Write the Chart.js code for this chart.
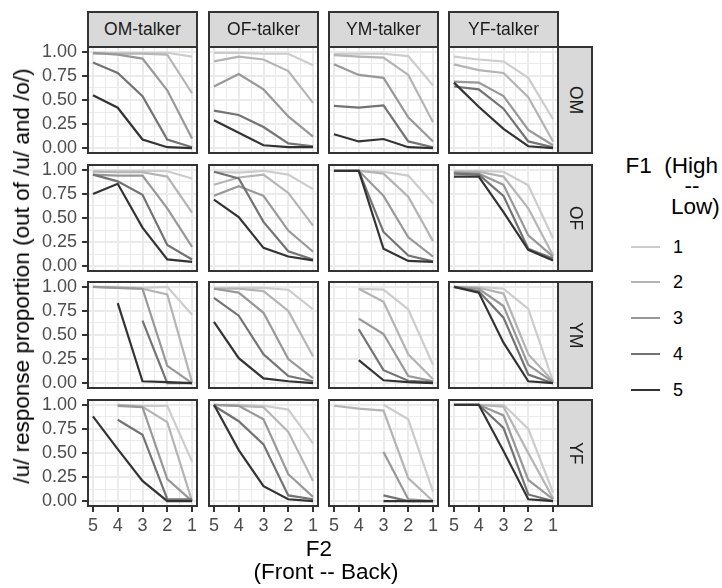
<!DOCTYPE html>
<html>
<head>
<meta charset="utf-8">
<title>/u/ response proportion by F1 and F2</title>
<script src="https://cdn.jsdelivr.net/npm/chart.js"></script>
<style>
    body { margin: 0; background: #fff; font-family: 'Liberation Sans', Arial, Helvetica, sans-serif; }
    #plot { position: relative; width: 722px; height: 588px; overflow: hidden; }
    #plot canvas { position: absolute; }
    .strip { position: absolute; box-sizing: border-box; background: #d9d9d9; border: 2px solid #333;
             color: #1a1a1a; font-size: 17.5px; display: flex; align-items: center; justify-content: center; }
    .strip.right { writing-mode: vertical-rl; }
    .txt { position: absolute; white-space: pre; line-height: 22px; }
</style>
</head>
<body>
<div id="plot"></div>
<script>
// facets: columns = talker, rows = stimulus
const talkers = ['OM-talker', 'OF-talker', 'YM-talker', 'YF-talker'];
const stimuli = ['OM', 'OF', 'YM', 'YF'];
const f2Levels = [5, 4, 3, 2, 1];
const f1Levels = ['1', '2', '3', '4', '5'];
const yTickValues = [0, 0.25, 0.5, 0.75, 1];
const yTickLabels = ['0.00', '0.25', '0.50', '0.75', '1.00'];

// each array: one row per F1 level (1..5), values at F2 = 5,4,3,2,1
const OM_OMtalker = [
    [0.99, 0.99, 0.99, 0.99, 0.95],
    [0.98, 0.98, 0.98, 0.97, 0.57],
    [0.99, 0.97, 0.93, 0.60, 0.10],
    [0.89, 0.78, 0.54, 0.09, 0.01],
    [0.55, 0.42, 0.09, 0.01, 0.00]
];
const OM_OFtalker = [
    [0.99, 0.99, 0.98, 0.98, 0.86],
    [0.90, 0.95, 0.92, 0.80, 0.47],
    [0.64, 0.77, 0.61, 0.33, 0.12],
    [0.39, 0.345, 0.22, 0.05, 0.02],
    [0.29, 0.16, 0.03, 0.01, 0.01]
];
const OM_YMtalker = [
    [0.98, 0.98, 0.98, 0.955, 0.65],
    [0.965, 0.95, 0.94, 0.76, 0.27],
    [0.87, 0.76, 0.73, 0.32, 0.07],
    [0.44, 0.42, 0.445, 0.07, 0.01],
    [0.145, 0.07, 0.095, 0.01, 0.00]
];
const OM_YFtalker = [
    [0.95, 0.92, 0.90, 0.73, 0.30],
    [0.87, 0.81, 0.78, 0.53, 0.07],
    [0.69, 0.68, 0.54, 0.19, 0.03],
    [0.64, 0.61, 0.41, 0.07, 0.01],
    [0.68, 0.43, 0.20, 0.02, 0.00]
];
const OF_OMtalker = [
    [0.99, 0.99, 0.99, 0.985, 0.91],
    [0.98, 0.975, 0.975, 0.93, 0.555],
    [0.95, 0.94, 0.94, 0.60, 0.20],
    [0.95, 0.88, 0.74, 0.22, 0.07],
    [0.75, 0.855, 0.40, 0.07, 0.045]
];
const OF_OFtalker = [
    [0.98, 0.97, 0.99, 0.95, 0.80],
    [0.845, 0.92, 0.95, 0.76, 0.42],
    [0.73, 0.83, 0.73, 0.37, 0.15],
    [0.98, 0.91, 0.46, 0.155, 0.07],
    [0.69, 0.51, 0.19, 0.10, 0.06]
];
const OF_YMtalker = [
    [0.99, 0.99, 0.98, 0.94, 0.65],
    [0.99, 0.99, 0.96, 0.72, 0.26],
    [0.99, 0.99, 0.73, 0.30, 0.10],
    [0.99, 0.99, 0.355, 0.11, 0.05],
    [0.99, 0.99, 0.18, 0.055, 0.045]
];
const OF_YFtalker = [
    [0.99, 0.99, 0.98, 0.84, 0.29],
    [0.98, 0.98, 0.93, 0.60, 0.11],
    [0.97, 0.96, 0.845, 0.32, 0.10],
    [0.96, 0.95, 0.73, 0.18, 0.08],
    [0.93, 0.93, 0.56, 0.17, 0.06]
];
const YM_OMtalker = [
    [1.00, 1.00, 0.99, 1.00, 0.71],
    [1.00, 0.99, 0.98, 0.92, 0.01],
    [1.00, 0.99, 0.98, 0.18, 0.00],
    [null, null, 0.65, 0.00, 0.00],
    [null, 0.83, 0.02, 0.01, 0.00]
];
const YM_OFtalker = [
    [0.99, 0.99, 0.99, 0.97, 0.765],
    [0.98, 0.98, 0.955, 0.75, 0.28],
    [0.98, 0.94, 0.73, 0.25, 0.05],
    [0.885, 0.70, 0.30, 0.075, 0.02],
    [0.635, 0.26, 0.05, 0.02, 0.00]
];
const YM_YMtalker = [
    [null, 0.98, 0.97, 0.765, 0.19],
    [null, 0.98, 0.845, 0.30, 0.04],
    [null, 0.67, 0.51, 0.075, 0.02],
    [null, 0.56, 0.135, 0.025, 0.01],
    [null, 0.24, 0.03, 0.01, 0.00]
];
const YM_YFtalker = [
    [1.00, 1.00, 0.98, 0.77, 0.02],
    [1.00, 0.99, 0.93, 0.30, 0.02],
    [1.00, 0.98, 0.80, 0.19, 0.01],
    [1.00, 0.955, 0.68, 0.09, 0.00],
    [1.00, 0.94, 0.42, 0.02, 0.00]
];
const YF_OMtalker = [
    [null, 1.00, 0.99, 0.99, 0.41],
    [null, 1.00, 0.98, 0.82, 0.00],
    [null, 0.99, 0.975, 0.23, 0.00],
    [null, 0.845, 0.69, 0.02, 0.02],
    [0.88, 0.54, 0.21, 0.00, 0.00]
];
const YF_OFtalker = [
    [1.00, 1.00, 0.99, 0.95, 0.60],
    [1.00, 0.99, 0.975, 0.72, 0.21],
    [1.00, 0.99, 0.85, 0.28, 0.045],
    [0.99, 0.83, 0.59, 0.06, 0.02],
    [1.00, 0.53, 0.155, 0.02, 0.00]
];
const YF_YMtalker = [
    [null, null, 1.00, 0.85, 0.10],
    [0.99, 0.96, 0.94, 0.24, 0.00],
    [null, null, 0.51, 0.02, 0.00],
    [null, null, 0.06, 0.00, 0.00],
    [null, null, 0.00, 0.00, 0.00]
];
const YF_YFtalker = [
    [1.00, 1.00, 1.00, 0.75, 0.09],
    [1.00, 1.00, 0.98, 0.50, 0.03],
    [1.00, 1.00, 0.89, 0.22, 0.02],
    [1.00, 1.00, 0.76, 0.07, 0.00],
    [1.00, 1.00, 0.52, 0.02, 0.00]
];

const panels = [
    [OM_OMtalker, OM_OFtalker, OM_YMtalker, OM_YFtalker],
    [OF_OMtalker, OF_OFtalker, OF_YMtalker, OF_YFtalker],
    [YM_OMtalker, YM_OFtalker, YM_YMtalker, YM_YFtalker],
    [YF_OMtalker, YF_OFtalker, YF_YMtalker, YF_YFtalker]
];

// grey scale, light (F1=1) to dark (F1=5)
const f1Colors = ['#cccccc', '#b4b4b4', '#989898', '#737373', '#333333'];

const FONT = "'Liberation Sans', Arial, Helvetica, sans-serif";
const TICK_SIZE = 18;
const TITLE_SIZE = 22.5;
const colLeft = [88, 209, 329, 449];
const rowTop = [47, 165, 282, 400];
const PW = 109, PH = 106, M = 4, AXH = 32;

// major grid at the ticks, minor grid halfway between
const xGrid = [];
for (let v = 1; v <= 5; v += 0.5) xGrid.push(v);
const yGrid = [];
for (let i = 0; i < yTickValues.length; i++) {
    yGrid.push(yTickValues[i]);
    if (i < yTickValues.length - 1) yGrid.push((yTickValues[i] + yTickValues[i + 1]) / 2);
}
const isMajorX = v => f2Levels.includes(v);
const isMajorY = v => yTickValues.some(t => Math.abs(t - v) < 1e-9);

const panelBorder = {
    id: 'panelBorder',
    afterDraw(chart) {
        const { ctx, chartArea: a } = chart;
        ctx.save();
        ctx.strokeStyle = '#333';
        ctx.lineWidth = 2;
        ctx.strokeRect(a.left, a.top, a.right - a.left, a.bottom - a.top);
        ctx.restore();
    }
};

const plot = document.getElementById('plot');

function makePanel(r, c) {
    const left = c === 0;
    const bottom = r === panels.length - 1;
    const x0 = left ? 0 : colLeft[c] - M;
    const w = colLeft[c] + PW + M - x0;
    const y0 = rowTop[r] - M;
    const h = M + PH + (bottom ? AXH : M);

    const cv = document.createElement('canvas');
    cv.width = w;
    cv.height = h;
    cv.style.left = x0 + 'px';
    cv.style.top = y0 + 'px';
    plot.appendChild(cv);

    const datasets = panels[r][c].map((vals, i) => ({
        label: f1Levels[i],
        data: f2Levels.map((x, j) => ({ x: x, y: vals[j] })),
        borderColor: f1Colors[i],
        borderWidth: 2.2,
        pointRadius: 0,
        spanGaps: false,
        order: f1Levels.length - i
    }));

    new Chart(cv, {
        type: 'line',
        data: { datasets: datasets },
        plugins: [panelBorder],
        options: {
            responsive: false,
            animation: false,
            events: [],
            layout: { padding: { left: left ? 0 : M, right: M, top: M, bottom: bottom ? 0 : M } },
            plugins: { legend: { display: false }, tooltip: { enabled: false } },
            scales: {
                x: {
                    type: 'linear', reverse: true, min: 0.8, max: 5.2,
                    afterBuildTicks: s => { s.ticks = xGrid.map(v => ({ value: v })); },
                    afterFit: s => { s.height = bottom ? AXH : 0; s.paddingLeft = 0; s.paddingRight = 0; },
                    ticks: {
                        display: bottom, autoSkip: false, maxRotation: 0, padding: 3,
                        color: '#4d4d4d', font: { family: FONT, size: TICK_SIZE },
                        callback: v => isMajorX(v) ? String(v) : ''
                    },
                    grid: {
                        color: '#ebebeb',
                        lineWidth: ctx => (ctx.tick && isMajorX(ctx.tick.value)) ? 2 : 1,
                        drawTicks: bottom, tickLength: 6, tickWidth: 2,
                        tickColor: ctx => (ctx.tick && isMajorX(ctx.tick.value)) ? '#333' : 'rgba(0,0,0,0)'
                    },
                    border: { display: false }
                },
                y: {
                    type: 'linear', min: -0.05, max: 1.05,
                    afterBuildTicks: s => { s.ticks = yGrid.map(v => ({ value: v })); },
                    afterFit: s => { s.width = left ? colLeft[0] : 0; s.paddingTop = 0; s.paddingBottom = 0; },
                    ticks: {
                        display: left, autoSkip: false, padding: 5,
                        color: '#4d4d4d', font: { family: FONT, size: TICK_SIZE },
                        callback: v => {
                            const k = yTickValues.findIndex(t => Math.abs(t - v) < 1e-9);
                            return k >= 0 ? yTickLabels[k] : '';
                        }
                    },
                    grid: {
                        color: '#ebebeb',
                        lineWidth: ctx => (ctx.tick && isMajorY(ctx.tick.value)) ? 2 : 1,
                        drawTicks: left, tickLength: 6, tickWidth: 2,
                        tickColor: ctx => (ctx.tick && isMajorY(ctx.tick.value)) ? '#333' : 'rgba(0,0,0,0)'
                    },
                    border: { display: false }
                }
            }
        }
    });
}

for (let r = 0; r < panels.length; r++) {
    for (let c = 0; c < talkers.length; c++) makePanel(r, c);
}

function addDiv(cls, text, css) {
    const d = document.createElement('div');
    d.className = cls;
    d.textContent = text;
    Object.assign(d.style, css);
    plot.appendChild(d);
    return d;
}

// strips
talkers.forEach((t, c) => {
    addDiv('strip', t, { left: (colLeft[c] - 1) + 'px', top: '11px', width: (PW + 2) + 'px', height: (rowTop[0] - 11 + 1) + 'px' });
});
stimuli.forEach((s, r) => {
    const x = colLeft[3] + PW - 1;
    addDiv('strip right', s, { left: x + 'px', top: (rowTop[r] - 1) + 'px', width: '36px', height: (PH + 2) + 'px' });
});

// axis titles
addDiv('txt', '/u/ response proportion (out of /u/ and /o/)', {
    left: '22px', top: '276px', fontSize: TITLE_SIZE + 'px', color: '#000',
    transform: 'translate(-50%, -50%) rotate(-90deg)'
});
addDiv('txt', 'F2', { left: '319px', top: '549px', fontSize: TITLE_SIZE + 'px', color: '#000', transform: 'translate(-50%, -50%)' });
addDiv('txt', '(Front -- Back)', { left: '326px', top: '572px', fontSize: TITLE_SIZE + 'px', color: '#000', transform: 'translate(-50%, -50%)' });

// legend
addDiv('txt', 'F1  (High', { right: '4px', top: '166px', fontSize: TITLE_SIZE + 'px', color: '#000', transform: 'translateY(-50%)' });
addDiv('txt', '--', { left: '692px', top: '186px', fontSize: TITLE_SIZE + 'px', color: '#000', transform: 'translate(-50%, -50%)' });
addDiv('txt', 'Low)', { left: '671px', top: '207px', fontSize: TITLE_SIZE + 'px', color: '#000', transform: 'translateY(-50%)' });
const keyY = [246.7, 282.3, 318.3, 354, 389.7];
f1Levels.forEach((lv, i) => {
    const ln = document.createElement('div');
    Object.assign(ln.style, { position: 'absolute', left: '631px', top: (keyY[i] - 1) + 'px', width: '29px', height: '2px', background: f1Colors[i] });
    plot.appendChild(ln);
    addDiv('txt', lv, { left: '673px', top: keyY[i] + 'px', fontSize: TICK_SIZE + 'px', color: '#000', transform: 'translateY(-50%)' });
});
</script>
</body>
</html>
